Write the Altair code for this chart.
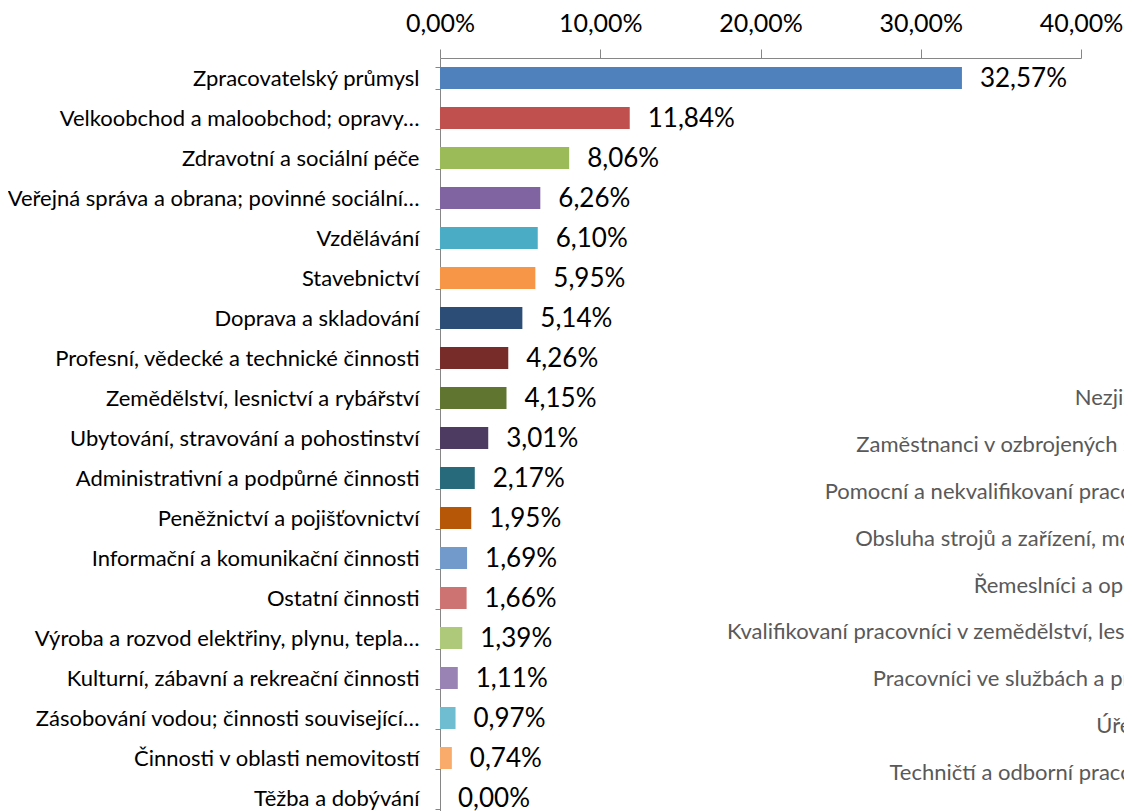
import altair as alt
import pandas as pd

categories = [
    "Zpracovatelský průmysl",
    "Velkoobchod a maloobchod; opravy…",
    "Zdravotní a sociální péče",
    "Veřejná správa a obrana; povinné sociální…",
    "Vzdělávání",
    "Stavebnictví",
    "Doprava a skladování",
    "Profesní, vědecké a technické činnosti",
    "Zemědělství, lesnictví a rybářství",
    "Ubytování, stravování a pohostinství",
    "Administrativní a podpůrné činnosti",
    "Peněžnictví a pojišťovnictví",
    "Informační a komunikační činnosti",
    "Ostatní činnosti",
    "Výroba a rozvod elektřiny, plynu, tepla…",
    "Kulturní, zábavní a rekreační činnosti",
    "Zásobování vodou; činnosti související…",
    "Činnosti v oblasti nemovitostí",
    "Těžba a dobývání",
]
values = [32.57, 11.84, 8.06, 6.26, 6.10, 5.95, 5.14, 4.26, 4.15, 3.01,
          2.17, 1.95, 1.69, 1.66, 1.39, 1.11, 0.97, 0.74, 0.00]
colors = ["#4F81BD", "#C0504D", "#9BBB59", "#8064A2", "#4BACC6", "#F79646",
          "#2C4D75", "#772C2A", "#5F7530", "#4D3B62", "#276A7C", "#B65708",
          "#729ACA", "#CD7371", "#AFC97A", "#9983B5", "#6FBDD1", "#F9AB6B",
          "#4F81BD"]
x_ticks = [0, 10, 20, 30, 40]

# labels of a neighbouring chart that show through at the right edge
occupations = [
    "Nezjištěno",
    "Zaměstnanci v ozbrojených silách",
    "Pomocní a nekvalifikovaní pracovníci",
    "Obsluha strojů a zařízení, montéři",
    "Řemeslníci a opraváři",
    "Kvalifikovaní pracovníci v zemědělství, lesnict…",
    "Pracovníci ve službách a prodeji",
    "Úředníci",
    "Techničtí a odborní pracovníci",
]

df = pd.DataFrame({"cat": categories, "value": values})
df["label"] = [f"{v:.2f}".replace(".", ",") + "%" for v in values]
occ_df = pd.DataFrame({"occ": occupations})

FONT = "Lato"

y_enc = alt.Y("cat:N", sort=categories, title=None,
              scale=alt.Scale(paddingInner=0.45, paddingOuter=0.225),
              axis=alt.Axis(tickBand="extent", tickSize=5, labelPadding=16,
                            labelLimit=1000, labelFont=FONT, labelFontSize=22,
                            labelColor="#000000", domainColor="#868686",
                            tickColor="#868686"))
x_enc = alt.X("value:Q", title=None,
              scale=alt.Scale(domain=[0, 40], nice=False),
              axis=alt.Axis(orient="top", values=x_ticks, grid=False, tickSize=9,
                            labelPadding=13, labelFont=FONT, labelFontSize=25,
                            labelColor="#000000", domainColor="#868686",
                            tickColor="#868686", labelFlush=False,
                            labelExpr="replace(format(datum.value, '.2f'), '.', ',') + '%'"))

bars = alt.Chart(df).mark_bar().encode(
    x=x_enc,
    y=y_enc,
    color=alt.Color("cat:N", scale=alt.Scale(domain=categories, range=colors), legend=None),
)

vals = alt.Chart(df).mark_text(align="left", baseline="middle", dx=18, dy=1,
                               font=FONT, fontSize=26, color="#000000").encode(
    x="value:Q",
    y=alt.Y("cat:N", sort=categories),
    text="label:N",
)

main = alt.layer(bars, vals)

ghost = alt.Chart(occ_df).mark_text(align="right", baseline="middle", font=FONT,
                                    fontSize=22, color="#595959").encode(
    x=alt.value(737),
    y=alt.Y("occ:N", sort=occupations, axis=None,
            scale=alt.Scale(type="point", range=[340, 715], padding=0)),
    text="occ:N",
)

chart = alt.layer(ghost, main).resolve_scale(y="independent").properties(
    width=641, height=760,
    autosize=alt.AutoSizeParams(type="none"),
    padding={"left": 432, "top": 50, "right": 43, "bottom": 4},
).configure_view(stroke=None)

chart.save("out.html", embed_options={"renderer": "svg", "actions": False})
